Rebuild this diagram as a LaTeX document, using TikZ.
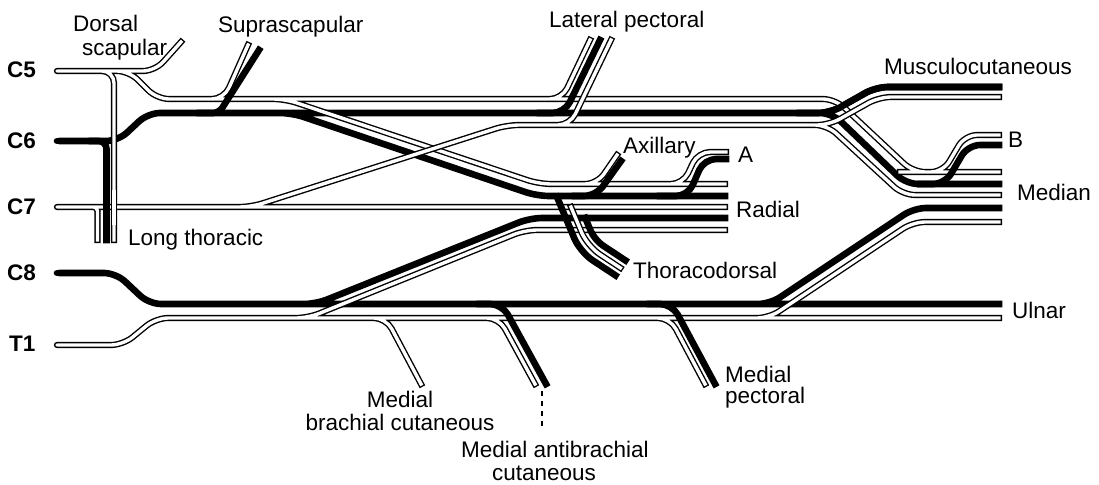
\documentclass[tikz,border=0pt]{standalone}
\usepackage{fontspec}
\setmainfont{Liberation Sans}
\begin{document}
\begin{tikzpicture}[x=1pt,y=-1pt,
  wf/.style={draw=black,line width=1.4pt,double=white,double distance=3.4pt,line cap=rect,rounded corners=12pt},
  bf/.style={draw=black,line width=6.6pt,line cap=rect,rounded corners=12pt},
  rootend/.style={draw=black,line width=1.4pt},
  lab/.style={inner sep=0pt,font=\fontsize{22.5}{26}\selectfont},
  rlab/.style={inner sep=0pt,font=\fontsize{22.5}{26}\selectfont\bfseries}]
\useasboundingbox (0,0) rectangle (1099,484);

% C6 main (black)
\draw[bf] (62,141) -- (118,141) -- (148,113) -- (832,113) -- (906,184) -- (999,184)
  (250,113) -- (292,113) -- (537,196) -- (725,196)
  (800,113) -- (830,113) -- (876,87) -- (999,87);

% C5 tree (white)
\draw[wf] (57,71) -- (129,71) -- (157,99) -- (835,99) -- (913,172) -- (999,172)
  (57,71) -- (155,71) -- (181,42)
  (57,71) -- (114,71) -- (114,240)
  (190,99) -- (224,99) -- (248,45)
  (200,99) -- (285,99) -- (539,184) -- (725,184)
  (530,99) -- (562,99) -- (590,40)
  (570,184) -- (597,184) -- (617,155)
  (650,184) -- (683,184) -- (698,152) -- (726,152)
  (900,172) -- (943,172) -- (965,135) -- (999,135);

% C6 branches (black)
\draw[bf,rounded corners=6pt] (200,113) -- (219,113) -- (259,50);
\draw[bf] (540,113) -- (564.5,113) -- (600,40)
  (575,196) -- (596,196) -- (621,161)
  (660,196) -- (688,196) -- (704,159) -- (726,159)
  (920,184) -- (945,184) -- (968,145) -- (999,145)
  (800,113) -- (830,113) -- (876,87) -- (999,87);

% C7 tree (white)
\draw[wf] (57,207) -- (725,207)
  (57,207) -- (251,207) -- (507,125) -- (827,125) -- (903,195) -- (999,195)
  (545,125) -- (570,125) -- (611,40)
  (800,125) -- (829,125) -- (879,97) -- (999,97)
  [rounded corners=4pt] (80,207) -- (97.5,207) -- (97.5,240);

% long thoracic over C7
\draw[bf,rounded corners=8pt] (92,141) -- (106.5,141) -- (106.5,240);
\draw[wf,line cap=butt,rounded corners=0pt] (114,190) -- (114,225);

% C8 main (black)
\draw[bf] (62,273) -- (116,273) -- (149,304) -- (999,304)
  (290,304) -- (316,304) -- (530,218) -- (725,218)
  (740,304) -- (770,304) -- (914,208) -- (999,208);

% T1 tree (white)
\draw[wf] (57,345) -- (123,345) -- (156,318) -- (999,318)
  (280,318) -- (308,318) -- (525,230) -- (725,230)
  (360,318) -- (386,318) -- (421,384)
  (475,318) -- (499,318) -- (535,384)
  (645,318) -- (670,318) -- (705,384)
  (745,318) -- (769,318) -- (913,222) -- (999,222);

% C8 branches (black)
\draw[bf] (480,304) -- (502,304) -- (546,384)
  (650,304) -- (672,304) -- (715,384);

% thoracodorsal
\draw[bf,rounded corners=15pt] (557,197) -- (580,252) -- (615.5,275.4);
\draw[wf,rounded corners=15pt] (571,207) -- (587.3,246.1) -- (620.4,267.9);
\draw[bf,rounded corners=10pt] (585.3,218) -- (594.5,240) -- (625.4,260.4);

% rounded root ends
\fill[white] (52,67.3) rectangle (57,74.7);
\draw[rootend] (57,68.6) arc[start angle=90,end angle=270,radius=2.4pt];
\fill[white] (52,203.3) rectangle (57,210.7);
\draw[rootend] (57,204.6) arc[start angle=90,end angle=270,radius=2.4pt];
\fill[white] (52,341.3) rectangle (57,348.7);
\draw[rootend] (57,342.6) arc[start angle=90,end angle=270,radius=2.4pt];
\draw[bf,line cap=round] (57,141) -- (75,141);
\draw[bf,line cap=round] (57,273) -- (75,273);

% medial antibrachial continuation
\coordinate (macA) at (542,391);
\coordinate (macB) at (542,428);
\draw[line width=1.6pt,dash pattern=on 5pt off 5pt] (macA) -- (macB);

% labels
\node[rlab,anchor=base west] (c5) at (7,78) {C5};
\node[rlab,anchor=base west] (c6) at (7,148) {C6};
\node[rlab,anchor=base west] (c7) at (7,214) {C7};
\node[rlab,anchor=base west] (c8) at (7,280) {C8};
\node[rlab,anchor=base west] (t1) at (9,351) {T1};
\node[lab,anchor=base west] (ds1) at (73,32) {Dorsal};
\node[lab,anchor=base west] (ds2) at (82,56) {scapular};
\node[lab,anchor=base west] (ss) at (218,33) {Suprascapular};
\node[lab,anchor=base west] (lp) at (549,28) {Lateral pectoral};
\node[lab,anchor=base west] (mc) at (884,75) {Musculocutaneous};
\node[lab,anchor=base west] (ax) at (623,153) {Axillary};
\node[lab,anchor=base west] (la) at (738,162) {A};
\node[lab,anchor=base west] (lb) at (1008,147) {B};
\node[lab,anchor=base west] (md) at (1017,200) {Median};
\node[lab,anchor=base west] (rd) at (736,217) {Radial};
\node[lab,anchor=base west] (ul) at (1012,318) {Ulnar};
\node[lab,anchor=base west] (td) at (633,278) {Thoracodorsal};
\node[lab,anchor=base west] (lt) at (128,245) {Long thoracic};
\node[lab,anchor=base] (mbc1) at (400,407) {Medial};
\node[lab,anchor=base] (mbc2) at (400,430) {brachial cutaneous};
\node[lab,anchor=base] (mac1) at (555,457) {Medial antibrachial};
\node[lab,anchor=base] (mac2) at (544,480) {cutaneous};
\node[lab,anchor=base west] (mp1) at (725,382) {Medial};
\node[lab,anchor=base west] (mp2) at (725,403) {pectoral};
\end{tikzpicture}
\end{document}
